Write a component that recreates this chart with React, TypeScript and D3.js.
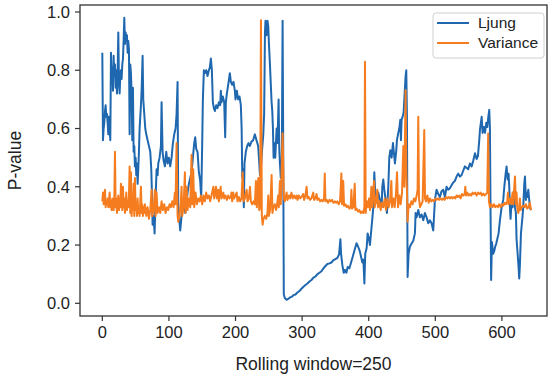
import React from "react";
import * as d3 from "d3";

// Ljung-Box p-values over a rolling window of 250 observations
const ljungX = [0,1,2,3,4,5,6,7,8,9,10,11,12,12.5,13,14,15,16,17,18,19,20,21,22,23,24,25,26,27,28,29,30,31,32,33,34,35,36,37,38,39,40,41,42,43,44,45,46,47,48,49,50,51,52,53,54,55,56,57,58,59,60.5,61.5,63,64.5,66,68,70,72,73.5,74.5,75.5,77,78.5,80,81.5,83,84,86,88,89,90.5,92,94,96,98,100,102,104,106,108,110,111.5,113,114,115.5,117,119,121,123,124.5,126,128,130,132,134,136,138,139.5,141,143,145,147,148.5,150,151,152.5,154,156,158,160,161.5,163,164.5,166,167.5,169,171,173,175,177,178,179,181,183,184.5,185.5,187,189,191.5,193,195,197,199,200,202,204,206,208,209.2,210.2,211.5,212.5,213.5,215.5,217.5,219.5,221.5,224,226.5,229,231.5,234,235.7,236.7,238.2,240,241.7,243,244.2,245,246.5,248,249.2,250.2,251.7,253.2,254.2,255.2,256.2,257.2,258.2,259.7,260.7,261.7,263,264.7,265.7,266.7,268,269.5,270.7,271.5,272.5,274,276.7,279,281.7,284,287,290,293,296,299,302,305,308,311,314,317,320,323,326,329,332,335,338,341,344,347,350,353,355.5,357.5,358.5,360.5,362.5,364.5,366.5,368.5,371,373.5,376,379,381.7,384,386.5,388.5,390.5,392,393.5,394.8,396.9,398.4,400.4,401.9,403.4,404.4,405.4,406.9,408.4,409.4,410.9,412.4,414.4,416.9,419.4,420.4,421.9,423.4,425.4,427.4,429.4,430.9,432.4,434.4,436.4,439.4,441.4,442.4,444.4,445.9,447.4,448.4,449.4,450.9,452.4,454.4,455.4,456.4,457.4,458.4,459.9,461.9,464.4,466.9,469.4,470.4,471.9,473.4,474.4,476.9,479.4,481.9,484.4,486.9,489.4,491.9,494.4,496.9,499.4,501.9,504.4,506.9,509.4,511.9,514.4,516.9,519.4,521.9,524.4,526.9,529.4,531.9,534.4,536.9,539.4,541.9,544.4,546.9,549.4,552,554.6,557,559.6,562,564,566,567,569.6,571,573,574.6,576.5,578,579.6,581,582,583,583.8,585,587,588.5,590,591.5,593,595,597,599.6,602,603.6,605.6,607,608.6,610,611,612,613,614.6,616,617,618.6,619.6,621,622,623.6,625,626,627,628.6,629.6,631,632,633.6,634.6,636,637,638.6,639.6,641,642,643.6];
const ljungP = [0.86,0.56,0.6,0.62,0.66,0.68,0.64,0.65,0.62,0.58,0.64,0.6,0.56,0.7,0.86,0.76,0.81,0.73,0.85,0.78,0.82,0.74,0.8,0.72,0.79,0.93,0.76,0.72,0.78,0.8,0.77,0.82,0.84,0.9,0.98,0.89,0.93,0.9,0.92,0.86,0.9,0.87,0.58,0.82,0.79,0.72,0.56,0.74,0.52,0.54,0.47,0.5,0.44,0.48,0.41,0.46,0.52,0.6,0.64,0.68,0.73,0.85,0.7,0.65,0.6,0.58,0.56,0.54,0.52,0.46,0.38,0.27,0.3,0.24,0.36,0.46,0.44,0.48,0.5,0.54,0.69,0.52,0.49,0.47,0.52,0.48,0.5,0.47,0.5,0.55,0.58,0.6,0.65,0.76,0.34,0.29,0.25,0.3,0.33,0.34,0.31,0.33,0.38,0.41,0.43,0.45,0.5,0.55,0.57,0.53,0.52,0.45,0.42,0.36,0.55,0.7,0.8,0.79,0.8,0.78,0.8,0.81,0.84,0.8,0.69,0.67,0.66,0.68,0.67,0.69,0.68,0.73,0.69,0.71,0.69,0.57,0.69,0.72,0.75,0.79,0.76,0.75,0.76,0.73,0.7,0.73,0.7,0.71,0.68,0.6,0.43,0.46,0.33,0.48,0.52,0.54,0.55,0.54,0.555,0.56,0.58,0.56,0.54,0.48,0.44,0.47,0.53,0.58,0.65,0.93,0.97,0.92,0.97,0.95,0.89,0.82,0.74,0.69,0.66,0.6,0.5,0.55,0.5,0.55,0.6,0.55,0.7,0.53,0.48,0.43,0.48,0.97,0.6,0.03,0.018,0.012,0.015,0.02,0.022,0.028,0.03,0.037,0.042,0.05,0.057,0.063,0.068,0.075,0.08,0.088,0.092,0.1,0.105,0.11,0.12,0.128,0.135,0.137,0.14,0.148,0.152,0.156,0.168,0.22,0.17,0.13,0.105,0.115,0.105,0.125,0.12,0.14,0.16,0.185,0.206,0.195,0.18,0.16,0.14,0.15,0.068,0.17,0.19,0.24,0.22,0.2,0.24,0.265,0.29,0.33,0.45,0.4,0.355,0.345,0.38,0.355,0.33,0.4,0.425,0.39,0.355,0.31,0.4,0.5,0.525,0.5,0.55,0.48,0.525,0.56,0.585,0.6,0.63,0.56,0.63,0.64,0.655,0.74,0.78,0.8,0.64,0.09,0.17,0.195,0.205,0.215,0.24,0.31,0.295,0.31,0.32,0.295,0.305,0.285,0.31,0.295,0.275,0.285,0.275,0.25,0.355,0.39,0.375,0.365,0.385,0.39,0.365,0.4,0.39,0.395,0.405,0.415,0.42,0.435,0.445,0.435,0.44,0.455,0.47,0.465,0.46,0.48,0.47,0.49,0.515,0.495,0.505,0.56,0.595,0.64,0.585,0.605,0.585,0.62,0.605,0.64,0.664,0.6,0.3,0.08,0.21,0.17,0.18,0.195,0.205,0.22,0.24,0.285,0.33,0.355,0.4,0.445,0.47,0.425,0.445,0.4,0.33,0.29,0.355,0.33,0.38,0.355,0.33,0.31,0.22,0.17,0.125,0.085,0.13,0.24,0.265,0.3,0.33,0.41,0.435,0.355,0.38,0.365,0.39,0.355,0.33,0.32];

// Variance-test p-values over the same rolling window
const varX = [0,1,2,3,4,5,6,7,8,9,10,11,12,13,14,15,16,17,18,19,20,21,22,23,24,25,26,27,28,29,30,31,32,33,34,35,36,37,38,39,40,41,42,43,44,45,46,47,48,49,50,51,52,53,54,55,56,57,58,59,60,61,62,63,64,66,68,70,72,74,75,77,79,80,81.5,83,85,87,89,91,93,95,97,99,101,103,105,107,109,110,111.5,113,114,116,118,119,120,122,124,125,126.5,128,130,132,134,135,136.5,138,140,142,144,146,148,150,152,154,156,158,160,162,164,166.7,168,170.7,172,174,175,177.7,179,181.7,183,185,187,189,191,193,194,195,196.7,198,200,201.7,203,205,207,209,210.7,212,214,216.7,218,220,221.7,223,225,227,229,230.7,232,234.2,235.5,237,238.2,239.5,240.7,242,244,246,248,249.2,250,252,254.2,255.5,257,259,261,263,264,265,266.7,268,270.7,272.7,274,276.7,278,280,282,284,286,288,290,291.7,293,295,297,299,301.7,303,305,306.7,308,310,312,314,316.7,318,320,321.7,323,325,327,329,331,333,334,335,337,339,341,343,345,347,349,351,353,355,357,359,360,361.7,363,365,367,369,371,373,374,375,377,379,380,382,384,386,388,390,392,393.5,394.4,395.5,397,399,400.5,402,404,405,406,408,409,411,413,414,416,418,420,422,424,426,428,430,432,434,435,437,439,441,442.5,444,446,448,450,452,453.5,455.4,456.5,457.5,458.4,460,462,464,466,468,470,472,473.4,474.4,475.5,477,479,481,483.4,484.5,486,488,490,492,494,496,498,500,502,504,506,508,510,512,514,516,518,520,522,524,526,528,530,532,534,536,538,540,542,544,545,546,548,550,552,554,556,558,560,562,564,566,568,570,572,574,576,578,579.4,580.5,582,584,586,588,590,592,594,596,598,600,602,604,606,608,609,610,612,614,616,617,619.6,621,622,623,624.6,626,627,628,630,632,634,636,638,640,642,643.6];
const varP = [0.35,0.38,0.34,0.36,0.39,0.33,0.35,0.34,0.36,0.33,0.35,0.38,0.33,0.35,0.32,0.36,0.34,0.32,0.35,0.52,0.33,0.36,0.31,0.34,0.37,0.32,0.36,0.33,0.41,0.35,0.32,0.4,0.33,0.36,0.31,0.34,0.38,0.32,0.35,0.33,0.37,0.47,0.31,0.45,0.3,0.35,0.32,0.41,0.3,0.43,0.32,0.34,0.3,0.36,0.31,0.33,0.3,0.35,0.4,0.31,0.34,0.3,0.33,0.31,0.34,0.3,0.33,0.29,0.32,0.39,0.3,0.32,0.39,0.3,0.38,0.31,0.33,0.31,0.35,0.32,0.34,0.31,0.33,0.32,0.34,0.33,0.35,0.33,0.38,0.34,0.55,0.3,0.28,0.3,0.35,0.4,0.3,0.33,0.45,0.31,0.4,0.32,0.36,0.33,0.51,0.34,0.46,0.33,0.38,0.34,0.36,0.35,0.37,0.34,0.37,0.35,0.38,0.36,0.37,0.35,0.37,0.4,0.36,0.4,0.36,0.39,0.35,0.4,0.36,0.38,0.36,0.37,0.355,0.37,0.36,0.365,0.38,0.35,0.38,0.36,0.37,0.38,0.35,0.365,0.35,0.36,0.45,0.35,0.36,0.39,0.35,0.36,0.4,0.35,0.34,0.35,0.34,0.42,0.33,0.43,0.32,0.33,0.972,0.3,0.27,0.29,0.3,0.29,0.31,0.37,0.3,0.32,0.44,0.31,0.33,0.34,0.32,0.35,0.37,0.33,0.42,0.34,0.584,0.36,0.35,0.38,0.355,0.37,0.36,0.38,0.36,0.37,0.36,0.37,0.355,0.37,0.36,0.365,0.375,0.355,0.37,0.4,0.36,0.365,0.355,0.36,0.38,0.355,0.36,0.375,0.355,0.36,0.35,0.355,0.35,0.36,0.446,0.35,0.355,0.345,0.355,0.35,0.355,0.345,0.35,0.345,0.35,0.34,0.35,0.446,0.34,0.42,0.335,0.34,0.33,0.335,0.325,0.33,0.39,0.325,0.33,0.41,0.32,0.325,0.315,0.32,0.31,0.315,0.31,0.33,0.829,0.31,0.35,0.33,0.36,0.32,0.4,0.33,0.36,0.42,0.33,0.35,0.39,0.33,0.35,0.32,0.345,0.33,0.36,0.32,0.36,0.33,0.35,0.42,0.33,0.36,0.33,0.38,0.45,0.33,0.37,0.34,0.38,0.54,0.4,0.732,0.45,0.38,0.28,0.34,0.33,0.35,0.34,0.36,0.35,0.37,0.39,0.64,0.36,0.33,0.34,0.35,0.595,0.36,0.35,0.37,0.345,0.36,0.35,0.355,0.35,0.36,0.355,0.36,0.355,0.36,0.355,0.36,0.355,0.365,0.36,0.365,0.36,0.365,0.36,0.365,0.36,0.37,0.365,0.37,0.36,0.375,0.37,0.375,0.4,0.37,0.38,0.37,0.375,0.37,0.38,0.375,0.38,0.37,0.38,0.375,0.38,0.37,0.377,0.37,0.375,0.38,0.583,0.35,0.33,0.34,0.33,0.34,0.33,0.335,0.33,0.34,0.33,0.34,0.335,0.345,0.34,0.35,0.38,0.34,0.36,0.34,0.38,0.34,0.435,0.34,0.38,0.33,0.31,0.33,0.36,0.32,0.33,0.335,0.33,0.34,0.325,0.33,0.345,0.32];

const xTicks = [0, 100, 200, 300, 400, 500, 600];
const yTicks = [0.0, 0.2, 0.4, 0.6, 0.8, 1.0];
const seriesNames = ["Ljung", "Variance"];
const seriesColors = ["#1f68b0", "#f57d1f"];

const W = 548;
const H = 383;
const plot = { left: 80, right: 547, top: 5, bottom: 316 };
const FONT = "'Liberation Sans', Arial, Helvetica, sans-serif";

export default function App() {
  const x = d3.scaleLinear().domain([-33.5, 667.7]).range([plot.left, plot.right]);
  const y = d3.scaleLinear().domain([-0.0436, 1.024]).range([plot.bottom, plot.top]);

  const line = d3
    .line<[number, number]>()
    .x((d) => x(d[0]))
    .y((d) => y(d[1]));

  const ljung: [number, number][] = ljungX.map((v, i) => [v, ljungP[i]]);
  const variance: [number, number][] = varX.map((v, i) => [v, varP[i]]);

  const axisColor = "#333";
  const textColor = "#222";

  return (
    <svg
      width={W}
      height={H}
      style={{ position: "absolute", left: 0, top: 0, background: "#fff" }}
      fontFamily={FONT}
    >
      <defs>
        <clipPath id="plot-clip">
          <rect x={plot.left} y={plot.top} width={plot.right - plot.left} height={plot.bottom - plot.top} />
        </clipPath>
      </defs>

      <g clipPath="url(#plot-clip)" fill="none" strokeLinejoin="round" strokeWidth={2}>
        <path d={line(ljung) ?? ""} stroke={seriesColors[0]} />
        <path d={line(variance) ?? ""} stroke={seriesColors[1]} />
      </g>

      {/* frame */}
      <rect
        x={plot.left}
        y={plot.top}
        width={plot.right - plot.left}
        height={plot.bottom - plot.top}
        fill="none"
        stroke={axisColor}
        strokeWidth={1.3}
      />

      {/* x axis ticks */}
      {xTicks.map((t) => (
        <g key={`x${t}`} transform={`translate(${x(t)},${plot.bottom})`}>
          <line y1={0} y2={5} stroke={axisColor} strokeWidth={1.2} />
          <text y={22} textAnchor="middle" fontSize={16.5} fill={textColor}>
            {t}
          </text>
        </g>
      ))}

      {/* y axis ticks */}
      {yTicks.map((t) => (
        <g key={`y${t}`} transform={`translate(${plot.left},${y(t)})`}>
          <line x1={0} x2={-5} stroke={axisColor} strokeWidth={1.2} />
          <text x={-10} dy="0.35em" textAnchor="end" fontSize={16.5} fill={textColor}>
            {t.toFixed(1)}
          </text>
        </g>
      ))}

      <text x={(plot.left + plot.right) / 2} y={370} textAnchor="middle" fontSize={17.5} fill={textColor}>
        Rolling window=250
      </text>
      <text
        transform={`translate(21,${(plot.top + plot.bottom) / 2}) rotate(-90)`}
        textAnchor="middle"
        fontSize={17.5}
        fill={textColor}
      >
        P-value
      </text>

      {/* legend */}
      <g>
        <rect x={433} y={13} width={111} height={45} rx={3} fill="#fff" fillOpacity={0.8} stroke="#d0d0d0" strokeWidth={1} />
        {seriesNames.map((name, i) => (
          <g key={name} transform={`translate(437,${23 + i * 20})`}>
            <line x1={0} x2={32} stroke={seriesColors[i]} strokeWidth={2} />
            <text x={41} dy="0.35em" fontSize={15.5} fill={textColor}>
              {name}
            </text>
          </g>
        ))}
      </g>
    </svg>
  );
}
